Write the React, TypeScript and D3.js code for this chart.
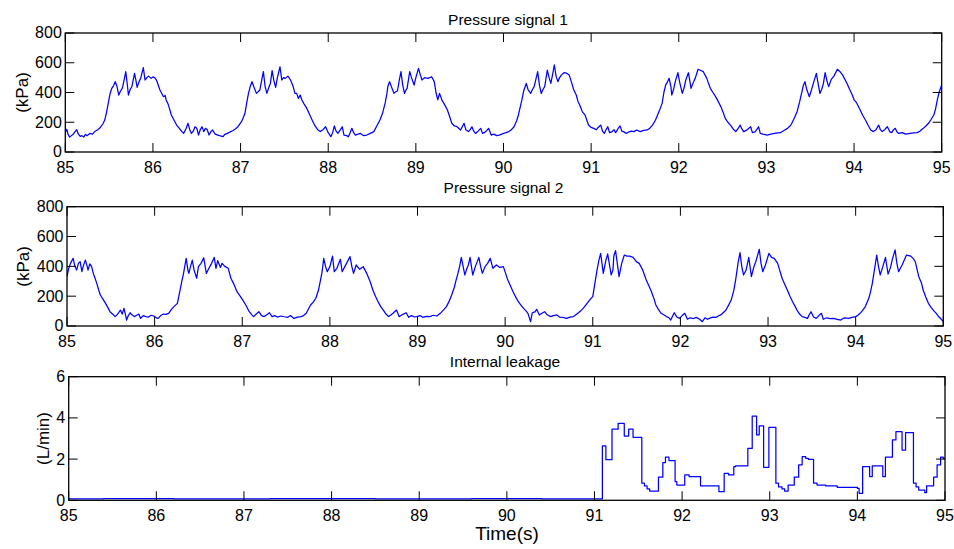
import React from "react";
import * as d3 from "d3";

// ---------- DATA ----------
const xTicks = [85, 86, 87, 88, 89, 90, 91, 92, 93, 94, 95];
const pressureTicks = [0, 200, 400, 600, 800];
const leakageTicks = [0, 2, 4, 6];
const panelTitles = ["Pressure signal 1", "Pressure signal 2", "Internal leakage"];
const panelYLabels = ["(kPa)", "(kPa)", "(L/min)"];
const xAxisLabel = "Time(s)";

// Pressure signal 1: [time s, kPa]
const pressure1: [number, number][] = [
  [85.0,165],[85.01,140],[85.02,150],[85.03,120],[85.05,100],[85.07,110],[85.09,120],[85.11,135],[85.13,150],[85.15,120],
  [85.17,105],[85.19,110],[85.21,100],[85.23,118],[85.25,110],[85.28,125],[85.31,120],[85.34,140],[85.37,150],[85.4,165],
  [85.43,190],[85.45,215],[85.47,265],[85.49,327],[85.51,390],[85.53,428],[85.55,445],[85.57,473],[85.59,440],[85.61,383],
  [85.63,410],[85.65,428],[85.67,480],[85.69,540],[85.71,440],[85.72,383],[85.74,420],[85.76,440],[85.79,528],[85.8,500],
  [85.82,435],[85.84,470],[85.86,495],[85.89,567],[85.91,484],[85.93,500],[85.95,510],[85.98,495],[86.0,505],[86.02,500],
  [86.04,484],[86.06,450],[86.08,417],[86.1,395],[86.12,372],[86.14,380],[86.15,350],[86.17,327],[86.19,290],[86.21,249],
  [86.24,215],[86.27,181],[86.3,160],[86.33,137],[86.35,125],[86.38,160],[86.4,193],[86.42,150],[86.44,125],[86.46,140],
  [86.48,170],[86.5,160],[86.52,114],[86.54,150],[86.56,170],[86.58,137],[86.6,159],[86.62,150],[86.64,114],[86.66,135],
  [86.68,148],[86.71,120],[86.74,114],[86.77,108],[86.8,103],[86.82,118],[86.85,125],[86.88,135],[86.91,143],[86.94,155],
  [86.97,170],[87.01,204],[87.03,230],[87.05,260],[87.07,330],[87.09,394],[87.11,440],[87.13,473],[87.15,440],[87.18,394],
  [87.2,405],[87.22,417],[87.24,480],[87.26,540],[87.28,440],[87.3,394],[87.32,430],[87.34,461],[87.36,547],[87.38,480],
  [87.4,435],[87.42,500],[87.45,573],[87.47,484],[87.49,500],[87.51,495],[87.54,510],[87.57,484],[87.6,440],[87.62,394],
  [87.64,394],[87.66,360],[87.68,383],[87.7,350],[87.72,327],[87.75,300],[87.79,249],[87.82,210],[87.85,175],[87.88,150],
  [87.91,137],[87.94,150],[87.97,170],[88.0,130],[88.03,103],[88.05,130],[88.07,175],[88.09,140],[88.11,125],[88.14,150],
  [88.16,170],[88.18,114],[88.21,110],[88.23,103],[88.25,130],[88.27,159],[88.29,130],[88.31,114],[88.34,120],[88.37,125],
  [88.4,110],[88.44,114],[88.48,125],[88.52,137],[88.56,181],[88.59,215],[88.62,260],[88.65,330],[88.67,394],[88.68,440],
  [88.7,473],[88.72,440],[88.75,394],[88.77,405],[88.79,410],[88.81,480],[88.83,540],[88.85,450],[88.87,394],[88.89,420],
  [88.9,428],[88.93,540],[88.95,500],[88.98,450],[89.0,500],[89.03,562],[89.05,520],[89.07,484],[89.1,500],[89.14,495],
  [89.18,506],[89.21,473],[89.23,400],[89.25,350],[89.27,394],[89.3,345],[89.32,327],[89.36,282],[89.39,230],[89.41,193],
  [89.44,175],[89.47,170],[89.51,148],[89.55,193],[89.57,150],[89.6,137],[89.62,150],[89.64,170],[89.66,140],[89.68,125],
  [89.71,140],[89.74,159],[89.76,125],[89.78,130],[89.81,145],[89.83,159],[89.86,114],[89.89,120],[89.92,110],[89.95,114],
  [89.98,120],[90.0,125],[90.03,130],[90.06,137],[90.09,150],[90.12,170],[90.15,210],[90.17,249],[90.19,300],[90.21,350],
  [90.23,410],[90.26,461],[90.28,420],[90.31,394],[90.33,420],[90.35,439],[90.37,490],[90.39,540],[90.41,450],[90.43,394],
  [90.45,420],[90.47,439],[90.5,551],[90.52,500],[90.54,461],[90.56,520],[90.58,585],[90.6,510],[90.62,473],[90.64,500],
  [90.66,517],[90.69,533],[90.72,530],[90.75,517],[90.78,461],[90.8,420],[90.83,383],[90.85,340],[90.87,316],[90.9,270],
  [90.93,249],[90.97,181],[91.0,165],[91.03,159],[91.06,150],[91.08,165],[91.11,181],[91.13,140],[91.15,125],[91.17,150],
  [91.19,170],[91.21,130],[91.24,137],[91.26,150],[91.28,130],[91.31,160],[91.33,175],[91.35,140],[91.37,137],[91.4,125],
  [91.43,135],[91.46,140],[91.49,137],[91.52,148],[91.56,137],[91.6,145],[91.64,148],[91.67,160],[91.7,181],[91.73,210],
  [91.75,237],[91.78,280],[91.81,327],[91.83,400],[91.85,450],[91.87,470],[91.89,495],[91.91,440],[91.92,383],[91.94,420],
  [91.96,473],[91.99,533],[92.01,470],[92.04,394],[92.06,430],[92.08,484],[92.11,533],[92.14,428],[92.17,473],[92.19,500],
  [92.22,556],[92.25,548],[92.28,540],[92.32,495],[92.34,460],[92.36,428],[92.39,400],[92.42,372],[92.45,340],[92.48,305],
  [92.51,260],[92.53,226],[92.56,200],[92.59,181],[92.62,155],[92.65,137],[92.68,160],[92.7,181],[92.72,155],[92.74,137],
  [92.77,145],[92.8,160],[92.82,170],[92.84,130],[92.87,135],[92.89,150],[92.91,170],[92.93,125],[92.96,120],[93.01,114],
  [93.05,120],[93.09,125],[93.13,128],[93.16,130],[93.2,145],[93.24,159],[93.27,175],[93.29,193],[93.32,230],[93.35,271],
  [93.38,340],[93.41,417],[93.42,445],[93.44,473],[93.46,420],[93.49,372],[93.51,410],[93.53,450],[93.55,490],[93.57,528],
  [93.59,460],[93.61,394],[93.63,420],[93.65,460],[93.67,533],[93.69,480],[93.71,439],[93.74,488],[93.77,510],[93.81,556],
  [93.84,540],[93.87,517],[93.92,461],[93.95,420],[93.98,383],[94.0,350],[94.03,330],[94.07,282],[94.1,245],[94.13,215],
  [94.16,180],[94.19,148],[94.22,137],[94.25,150],[94.28,181],[94.3,150],[94.32,137],[94.35,150],[94.38,170],[94.41,135],
  [94.43,130],[94.45,150],[94.47,159],[94.49,135],[94.51,125],[94.55,130],[94.59,120],[94.64,125],[94.68,128],[94.72,130],
  [94.75,140],[94.79,159],[94.82,175],[94.85,193],[94.88,220],[94.91,249],[94.93,290],[94.95,350],[94.97,400],[95.0,450],
];

// Pressure signal 2: [time s, kPa]
const pressure2: [number, number][] = [
  [85.0,331],[85.02,387],[85.04,420],[85.07,454],[85.09,400],[85.11,375],[85.13,420],[85.15,431],[85.17,364],[85.19,410],
  [85.21,442],[85.23,400],[85.24,375],[85.26,416],[85.28,400],[85.3,353],[85.32,320],[85.34,286],[85.36,245],[85.38,208],
  [85.41,180],[85.44,152],[85.47,120],[85.49,96],[85.52,80],[85.55,63],[85.57,75],[85.59,90],[85.61,107],[85.63,80],
  [85.65,118],[85.67,70],[85.68,40],[85.7,70],[85.72,89],[85.74,75],[85.77,63],[85.79,70],[85.82,80],[85.84,51],
  [85.87,70],[85.9,63],[85.93,60],[85.96,72],[85.99,67],[86.02,55],[86.04,51],[86.07,70],[86.1,80],[86.13,78],
  [86.16,85],[86.19,110],[86.22,130],[86.26,152],[86.29,241],[86.31,300],[86.33,353],[86.36,454],[86.38,375],[86.39,353],
  [86.41,400],[86.43,442],[86.45,375],[86.48,320],[86.5,398],[86.53,420],[86.56,458],[86.59,353],[86.62,387],[86.65,420],
  [86.68,460],[86.7,387],[86.72,438],[86.75,393],[86.77,420],[86.8,400],[86.84,387],[86.87,320],[86.9,286],[86.94,230],
  [86.98,197],[87.01,170],[87.04,141],[87.08,96],[87.11,75],[87.13,63],[87.16,80],[87.19,96],[87.22,70],[87.25,63],
  [87.28,75],[87.31,89],[87.34,63],[87.37,70],[87.4,60],[87.44,67],[87.48,62],[87.52,58],[87.55,70],[87.59,51],
  [87.63,60],[87.67,63],[87.7,70],[87.73,85],[87.78,141],[87.81,160],[87.84,186],[87.87,241],[87.89,300],[87.91,360],
  [87.93,454],[87.95,400],[87.97,364],[88.0,398],[88.03,469],[88.05,364],[88.08,387],[88.12,447],[88.14,364],[88.17,398],
  [88.19,420],[88.23,465],[88.25,400],[88.27,353],[88.3,409],[88.34,380],[88.38,398],[88.42,353],[88.46,297],[88.49,241],
  [88.52,200],[88.55,163],[88.58,130],[88.61,107],[88.64,80],[88.67,63],[88.7,75],[88.72,85],[88.76,107],[88.79,63],
  [88.81,70],[88.84,80],[88.87,89],[88.9,58],[88.93,70],[88.96,62],[88.99,63],[89.03,70],[89.06,58],[89.1,65],
  [89.14,63],[89.18,72],[89.22,67],[89.26,85],[89.3,110],[89.33,130],[89.36,165],[89.39,208],[89.42,260],[89.44,308],
  [89.46,350],[89.48,398],[89.5,460],[89.52,400],[89.54,342],[89.56,380],[89.58,409],[89.6,460],[89.62,380],[89.63,342],
  [89.66,398],[89.7,460],[89.72,400],[89.74,353],[89.77,398],[89.8,420],[89.83,454],[89.86,387],[89.9,409],[89.94,393],
  [89.98,398],[90.03,308],[90.06,270],[90.09,230],[90.12,195],[90.15,163],[90.18,140],[90.21,118],[90.24,100],[90.26,85],
  [90.29,29],[90.31,89],[90.34,95],[90.36,112],[90.39,74],[90.42,85],[90.45,96],[90.48,75],[90.52,63],[90.55,70],
  [90.59,74],[90.62,60],[90.66,58],[90.7,51],[90.74,60],[90.78,63],[90.83,85],[90.86,100],[90.89,118],[90.92,140],
  [90.95,163],[90.98,185],[91.0,197],[91.03,308],[91.05,380],[91.07,442],[91.09,487],[91.12,353],[91.15,442],[91.17,483],
  [91.21,342],[91.23,375],[91.24,469],[91.26,505],[91.3,331],[91.33,420],[91.36,476],[91.39,469],[91.42,469],[91.46,460],
  [91.5,430],[91.53,420],[91.57,375],[91.61,308],[91.64,270],[91.67,230],[91.7,180],[91.72,141],[91.75,110],[91.78,85],
  [91.81,75],[91.84,63],[91.87,55],[91.89,40],[91.91,65],[91.93,89],[91.96,60],[91.99,51],[92.02,70],[92.05,85],
  [92.08,45],[92.11,55],[92.15,50],[92.18,58],[92.22,45],[92.25,29],[92.28,55],[92.31,45],[92.33,51],[92.37,60],
  [92.41,58],[92.44,70],[92.46,74],[92.5,95],[92.52,107],[92.55,140],[92.58,174],[92.61,240],[92.63,308],[92.66,430],
  [92.68,492],[92.7,400],[92.72,342],[92.75,375],[92.78,460],[92.81,331],[92.84,400],[92.86,431],[92.9,514],[92.92,420],
  [92.94,364],[92.97,409],[93.01,487],[93.04,460],[93.07,454],[93.11,420],[93.13,380],[93.16,320],[93.19,280],[93.22,241],
  [93.25,200],[93.28,163],[93.31,130],[93.33,107],[93.36,80],[93.39,63],[93.42,58],[93.45,51],[93.47,75],[93.49,96],
  [93.52,60],[93.55,51],[93.58,70],[93.61,85],[93.63,45],[93.67,55],[93.71,50],[93.75,51],[93.79,45],[93.83,40],
  [93.87,55],[93.92,51],[93.96,58],[94.0,63],[94.03,74],[94.05,85],[94.08,105],[94.11,130],[94.15,186],[94.17,230],
  [94.19,286],[94.22,398],[94.24,476],[94.26,400],[94.28,342],[94.31,398],[94.34,460],[94.37,348],[94.4,398],[94.42,450],
  [94.45,510],[94.47,420],[94.49,364],[94.53,409],[94.58,476],[94.63,469],[94.66,450],[94.68,431],[94.72,331],[94.75,290],
  [94.77,241],[94.8,195],[94.83,152],[94.86,125],[94.89,103],[94.92,85],[94.94,67],[94.97,50],[95.0,29],
];

// Internal leakage: step levels [start time s, L/min]
const leakage: [number, number][] = [
  [85.0,0.07],[85.4,0.08],[86.2,0.07],[87.3,0.08],[88.5,0.07],[89.6,0.08],[90.4,0.07],
  [91.09,2.64],[91.13,1.97],[91.2,3.45],[91.27,3.74],[91.34,3.12],[91.39,3.45],[91.44,3.06],
  [91.54,0.83],[91.57,0.7],[91.6,0.55],[91.63,0.45],[91.73,1.12],[91.78,1.83],[91.81,2.09],[91.85,1.93],
  [91.92,0.91],[91.94,0.74],[92.03,1.23],[92.08,1.15],[92.21,0.7],[92.42,0.42],[92.48,1.31],[92.53,1.23],
  [92.59,1.63],[92.61,1.67],[92.75,2.52],[92.8,4.09],[92.85,3.17],[92.88,3.61],[92.93,1.6],[92.99,3.54],
  [93.07,0.83],[93.1,0.65],[93.14,0.55],[93.17,0.45],[93.21,0.74],[93.28,1.12],[93.33,1.72],[93.37,2.12],
  [93.41,2.04],[93.44,1.99],[93.5,0.83],[93.54,0.74],[93.64,0.7],[93.77,0.63],[94.0,0.58],[94.02,0.34],
  [94.06,1.63],[94.14,1.15],[94.17,1.67],[94.29,1.15],[94.32,2.09],[94.4,2.93],[94.44,3.33],[94.51,2.44],
  [94.55,3.28],[94.64,0.83],[94.67,0.65],[94.7,0.5],[94.77,0.37],[94.79,0.7],[94.87,1.12],[94.91,1.72],
  [94.95,2.09],[94.98,2.04],[95.0,2.04],
];

// ---------- LAYOUT ----------
const W = 954;
const H = 549;
const FONT = "'Liberation Sans', Arial, Helvetica, sans-serif";
const TICK_LEN = 9;

type Panel = {
  data: [number, number][];
  yDomain: [number, number];
  yTicks: number[];
  left: number; right: number; top: number; bottom: number;
  titleX: number; titleY: number;
  yLabelX: number;
  step: boolean;
};

const panels: Panel[] = [
  { data: pressure1, yDomain: [0, 800], yTicks: pressureTicks, left: 65.3, right: 941.7, top: 33, bottom: 152, titleX: 508, titleY: 25, yLabelX: 22, step: false },
  { data: pressure2, yDomain: [0, 800], yTicks: pressureTicks, left: 67, right: 943.3, top: 206.7, bottom: 326, titleX: 503.5, titleY: 192.5, yLabelX: 22.5, step: false },
  { data: leakage, yDomain: [0, 6], yTicks: leakageTicks, left: 68.7, right: 945, top: 376.7, bottom: 500.3, titleX: 505, titleY: 367, yLabelX: 42.5, step: true },
];

function PanelView({ p, i }: { p: Panel; i: number }) {
  const x = d3.scaleLinear().domain([85, 95]).range([p.left, p.right]);
  const y = d3.scaleLinear().domain(p.yDomain).range([p.bottom, p.top]);
  const line = d3
    .line<[number, number]>()
    .x((d) => x(d[0]))
    .y((d) => y(d[1]))
    .curve(p.step ? d3.curveStepAfter : d3.curveLinear);
  const clipId = `clip${i}`;
  return (
    <g>
      <defs>
        <clipPath id={clipId}>
          <rect x={p.left} y={p.top} width={p.right - p.left} height={p.bottom - p.top} />
        </clipPath>
      </defs>
      <path d={line(p.data) || ""} fill="none" stroke="#0000ff" strokeWidth={1.25} strokeLinejoin="round" clipPath={`url(#${clipId})`} />
      {/* x ticks */}
      {xTicks.map((t) => (
        <g key={`x${t}`}>
          <line x1={x(t)} x2={x(t)} y1={p.bottom} y2={p.bottom - TICK_LEN} stroke="#000" strokeWidth={1} />
          <line x1={x(t)} x2={x(t)} y1={p.top} y2={p.top + TICK_LEN} stroke="#000" strokeWidth={1} />
          <text x={x(t)} y={p.bottom + 21} textAnchor="middle" fontSize={16} fontFamily={FONT} fill="#000">
            {t}
          </text>
        </g>
      ))}
      {/* y ticks */}
      {p.yTicks.map((v) => (
        <g key={`y${v}`}>
          <line x1={p.left} x2={p.left + TICK_LEN} y1={y(v)} y2={y(v)} stroke="#000" strokeWidth={1} />
          <line x1={p.right} x2={p.right - TICK_LEN} y1={y(v)} y2={y(v)} stroke="#000" strokeWidth={1} />
          <text x={p.left - 3.5} y={y(v)} dy="0.34em" textAnchor="end" fontSize={16} fontFamily={FONT} fill="#000">
            {v}
          </text>
        </g>
      ))}
      <rect x={p.left} y={p.top} width={p.right - p.left} height={p.bottom - p.top} fill="none" stroke="#000" strokeWidth={1.3} />
      <text x={p.titleX} y={p.titleY} textAnchor="middle" fontSize={15.5} fontFamily={FONT} fill="#000">
        {panelTitles[i]}
      </text>
      <text
        transform={`translate(${p.yLabelX},${(p.top + p.bottom) / 2}) rotate(-90)`}
        textAnchor="middle"
        dy="0.36em"
        fontSize={17}
        fontFamily={FONT}
        fill="#000"
      >
        {panelYLabels[i]}
      </text>
    </g>
  );
}

export default function App() {
  return (
    <svg
      width={W}
      height={H}
      viewBox={`0 0 ${W} ${H}`}
      style={{ position: "absolute", left: 0, top: 0, background: "#fff" }}
    >
      <rect width={W} height={H} fill="#fff" />
      {panels.map((p, i) => (
        <PanelView key={i} p={p} i={i} />
      ))}
      <text x={507} y={539.5} textAnchor="middle" fontSize={19} fontFamily={FONT} fill="#000">
        {xAxisLabel}
      </text>
    </svg>
  );
}
